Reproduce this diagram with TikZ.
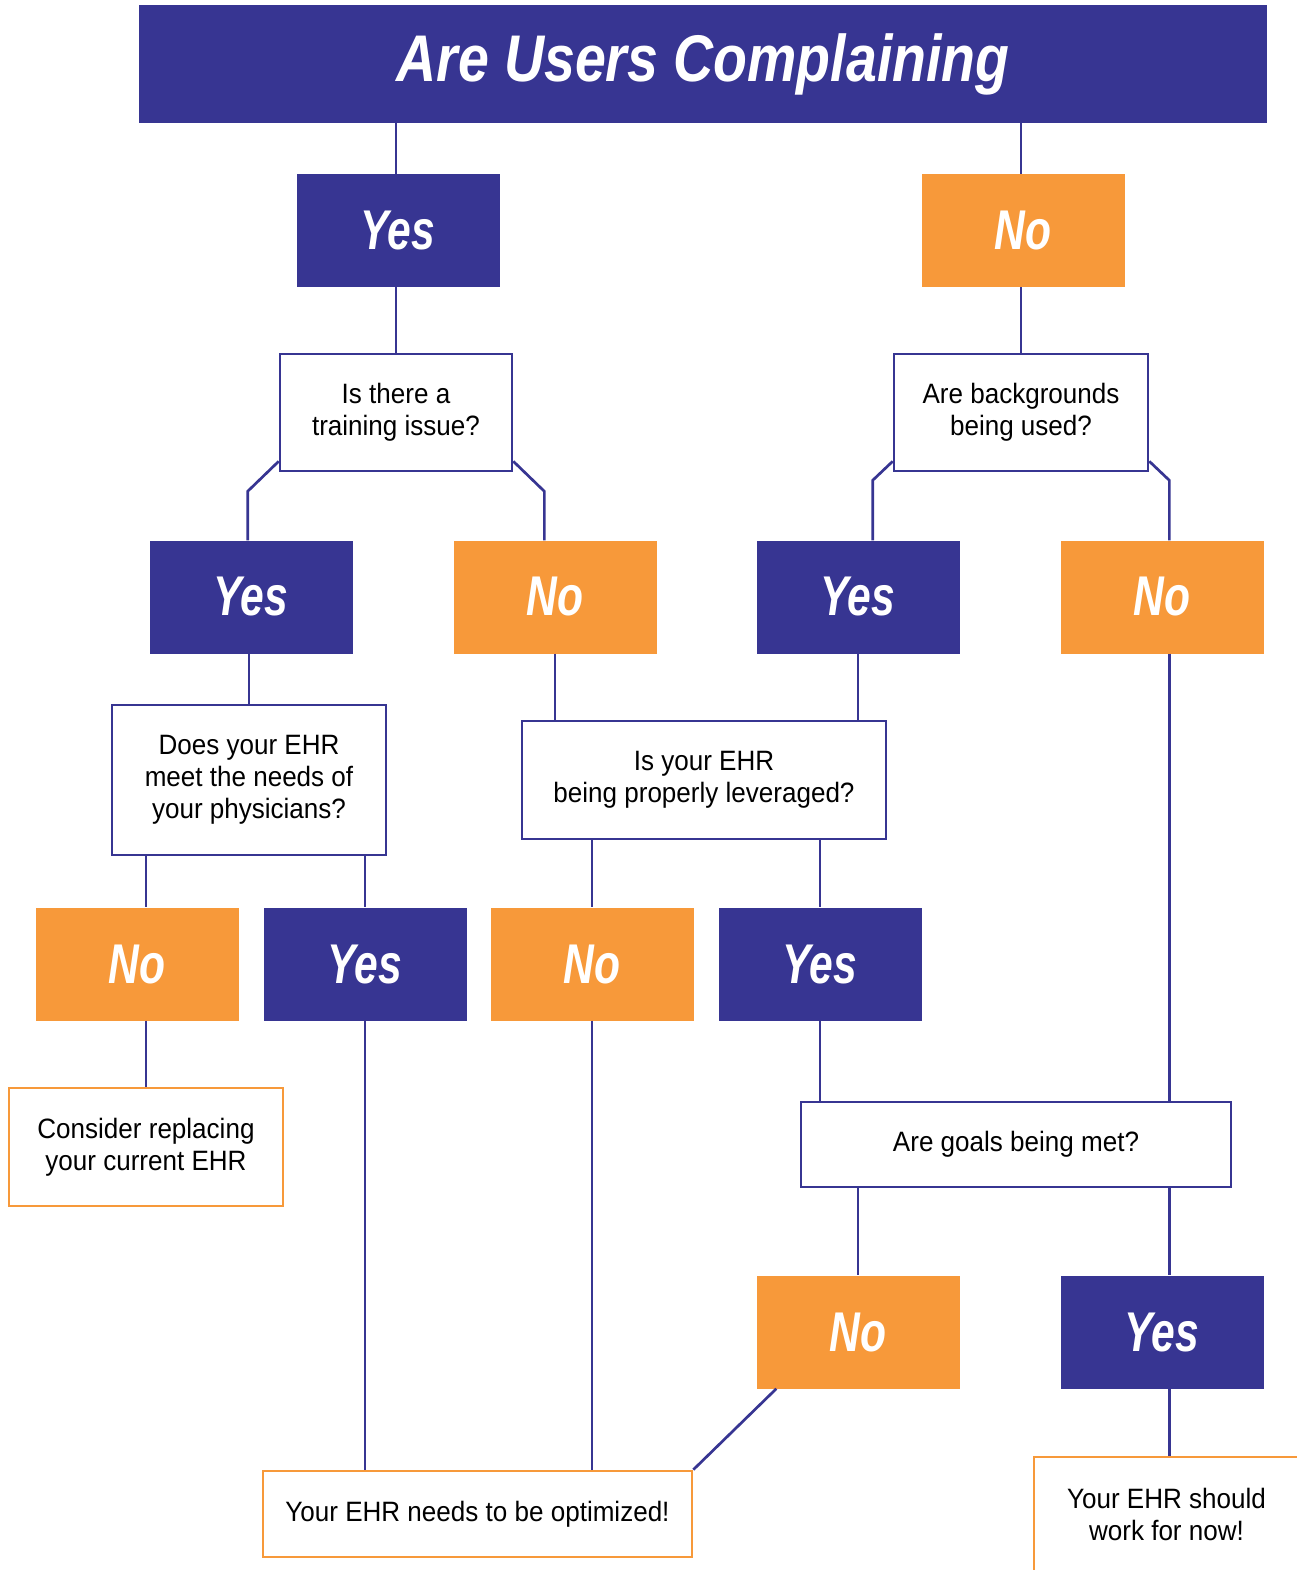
\documentclass[tikz,border=0pt]{standalone}
\usepackage{fontspec}
\newfontfamily\titlefont[FakeStretch=0.84]{Liberation Sans}
\newfontfamily\headfont[FakeStretch=0.76]{Liberation Sans}
\newfontfamily\bodyfont[FakeStretch=0.93]{Liberation Sans}
\definecolor{ehrblue}{HTML}{373592}
\definecolor{ehrorange}{HTML}{F7993A}
\tikzset{
  yesbox/.style={fill=ehrblue, minimum width=203pt, minimum height=113pt, inner sep=0pt, text=white,
    font=\headfont\bfseries\itshape\fontsize{56}{60}\selectfont},
  nobox/.style={yesbox, fill=ehrorange},
  askbox/.style={draw=ehrblue, line width=2.7pt, fill=white, align=center, inner sep=0pt,
    font=\bodyfont\fontsize{28}{32}\selectfont},
  endbox/.style={askbox, draw=ehrorange},
  link/.style={draw=ehrblue, line width=2.7pt}
}

\begin{document}
\begin{tikzpicture}[x=1pt, y=-1pt]
\useasboundingbox (0,0) rectangle (1296,1570);

\node[yesbox, minimum width=1128pt, minimum height=118pt, font=\titlefont\bfseries\itshape\fontsize{66}{70}\selectfont] (title) at (703,64) {Are Users Complaining};

% answer boxes
\foreach \n/\x/\y in {yes1/398/230.5, yes2/251/597, yes3/858/597, yes4/365/964, yes5/820/964, yes6/1162/1332}
{
    \node[yesbox] (\n) at (\x,\y) {Yes};
};
\foreach \n/\x/\y in {no1/1023/230.5, no2/555/597, no3/1162/597, no4/137/964, no5/592/964, no6/858/1332}
{
    \node[nobox] (\n) at (\x,\y) {No};
};

% questions
\node[askbox, minimum width=232pt, minimum height=117pt] (q1) at (396,412.5) {Is there a\\training issue?};
\node[askbox, minimum width=254pt, minimum height=117pt] (q2) at (1021,412.5) {Are backgrounds\\being used?};
\node[askbox, minimum width=274pt, minimum height=150pt] (q3) at (249,780) {Does your EHR\\meet the needs of\\your physicians?};
\node[askbox, minimum width=364pt, minimum height=118pt] (q4) at (704,780) {Is your EHR\\being properly leveraged?};
\node[askbox, minimum width=430pt, minimum height=85pt] (q5) at (1016,1144.5) {Are goals being met?};

% outcomes
\node[endbox, minimum width=274pt, minimum height=118pt] (consider) at (146,1147) {Consider replacing\\your current EHR};
\node[endbox, minimum width=429pt, minimum height=86pt] (opt) at (477.5,1514) {Your EHR needs to be optimized!};
\node[endbox, minimum width=265pt, minimum height=114pt] (final) at (1166.5,1514) {Your EHR should\\work for now!};

\draw[link] (title.south -| q1) -- (yes1.north -| q1);
\draw[link] (title.south -| q2) -- (no1.north -| q2);
\draw[link] (yes1.south -| q1) -- (q1.north);
\draw[link] (no1.south -| q2) -- (q2.north);

\draw[link] ([yshift=11pt]q1.south west) -- ++(-31,30) coordinate (k1) -- (k1 |- yes2.north);
\draw[link] ([yshift=11pt]q1.south east) -- ++(31,30) coordinate (k2) -- (k2 |- no2.north);
\draw[link] ([yshift=11pt]q2.south west) -- ++(-20,19) coordinate (k3) -- (k3 |- yes3.north);
\draw[link] ([yshift=11pt]q2.south east) -- ++(20,19) coordinate (k4) -- (k4 |- no3.north);

\draw[link] (yes2.south -| q3) -- (q3.north);
\draw[link] (no2.south) -- (no2.south |- q4.north);
\draw[link] (yes3.south) -- (yes3.south |- q4.north);

\draw[link] (q3.south -| consider) -- (no4.north -| consider);
\draw[link] (q3.south -| yes4) -- (yes4.north);
\draw[link] (q4.south -| no5) -- (no5.north);
\draw[link] (q4.south -| yes5) -- (yes5.north);

\draw[link] (no4.south -| consider) -- (consider.north);
\draw[link] (yes4.south) -- (yes4.south |- opt.north);
\draw[link] (no5.south) -- (no5.south |- opt.north);
\draw[link] (yes5.south) -- (yes5.south |- q5.north);
\draw[link] (k4 |- no3.south) -- (k4 |- q5.north);

\draw[link] (q5.south -| no6) -- (no6.north);
\draw[link] (q5.south -| k4) -- (k4 |- yes6.north);
\draw[link] (k4 |- yes6.south) -- (final.north -| k4);
\draw[link] ([xshift=20pt]no6.south west) -- (opt.north east);
\end{tikzpicture}
\end{document}
